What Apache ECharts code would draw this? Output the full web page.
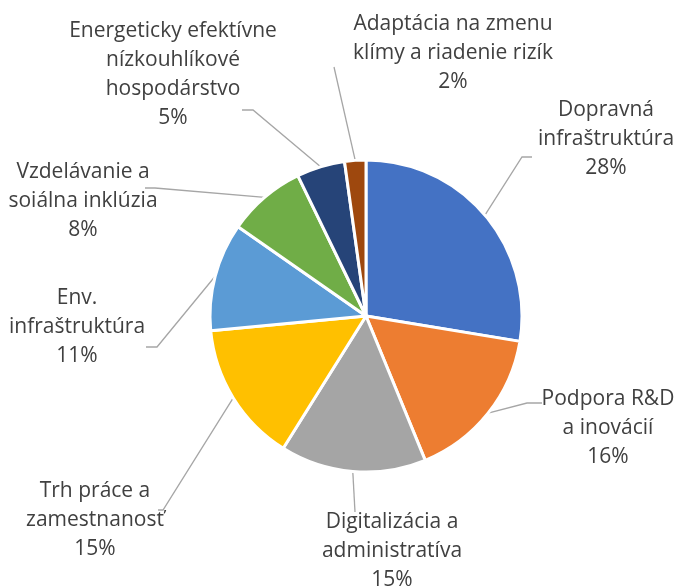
<!DOCTYPE html>
<html>
<head>
<meta charset="utf-8">
<script src="https://cdn.jsdelivr.net/npm/echarts@6/dist/echarts.min.js"></script>
<style>
  html, body { margin: 0; padding: 0; background: #fff; }
  #chart { width: 676px; height: 587px; }
</style>
</head>
<body>
<div id="chart"></div>
<script>
// kategórie (zalomenie riadkov ako v originále)
var categories = [
	'Dopravná\ninfraštruktúra',
	'Podpora R&D\na inovácií',
	'Digitalizácia a\nadministratíva',
	'Trh práce a\nzamestnanosť',
	'Env.\ninfraštruktúra',
	'Vzdelávanie a\nsoiálna inklúzia',
	'Energeticky efektívne\nnízkouhlíkové\nhospodárstvo',
	'Adaptácia na zmenu\nklímy a riadenie rizík'
];
// podiely v %
var values = [27.6, 16.2, 15.1, 14.6, 11.2, 8.1, 5.0, 2.2];
var colors = ['#4472C4', '#ED7D31', '#A5A5A5', '#FFC000', '#5B9BD5', '#70AD47', '#264478', '#9E480E'];

// umiestnenie popisov: stred textu, zlom a koniec vodiacej čiary
var labelPos = [[606, 139], [608, 428], [392, 551], [95, 520], [77, 327], [83, 201], [173, 75], [453, 53]];
var lineEnds = [
	[[522, 157], [532, 157]],
	[[527, 403], [542, 403]],
	[[355, 512], [355, 512]],
	[[163, 510], [158, 510]],
	[[157, 347], [146, 347]],
	[[155, 188], [145, 188]],
	[[253, 110], [242, 110]],
	[[334, 67], [334, 67]]
];

var myChart = echarts.init(document.getElementById('chart'));

var option = {
	backgroundColor: '#ffffff',
	color: colors,
	animation: false,
	series: [{
		type: 'pie',
		center: [366, 316],
		radius: 156,
		startAngle: 90,
		clockwise: true,
		avoidLabelOverlap: false,
		percentPrecision: 0,
		itemStyle: {
			borderColor: '#ffffff',
			borderWidth: 3
		},
		label: {
			show: true,
			position: 'outside',
			formatter: '{b}\n{d}%',
			fontFamily: 'Open Sans',
			fontSize: 21,
			lineHeight: 29,
			color: '#404040',
			align: 'center'
		},
		labelLine: {
			show: true,
			lineStyle: {
				color: '#A6A6A6',
				width: 1.3
			}
		},
		labelLayout: function (params) {
			var i = params.dataIndex;
			var p = labelPos[i];
			var start = params.labelLinePoints ? params.labelLinePoints[0] : lineEnds[i][0];
			return {
				x: p[0],
				y: p[1],
				align: 'center',
				verticalAlign: 'middle',
				labelLinePoints: [start, lineEnds[i][0], lineEnds[i][1]]
			};
		},
		data: categories.map(function (c, i) {
			return { name: c, value: values[i] };
		})
	}]
};
myChart.setOption(option);
</script>
</body>
</html>
